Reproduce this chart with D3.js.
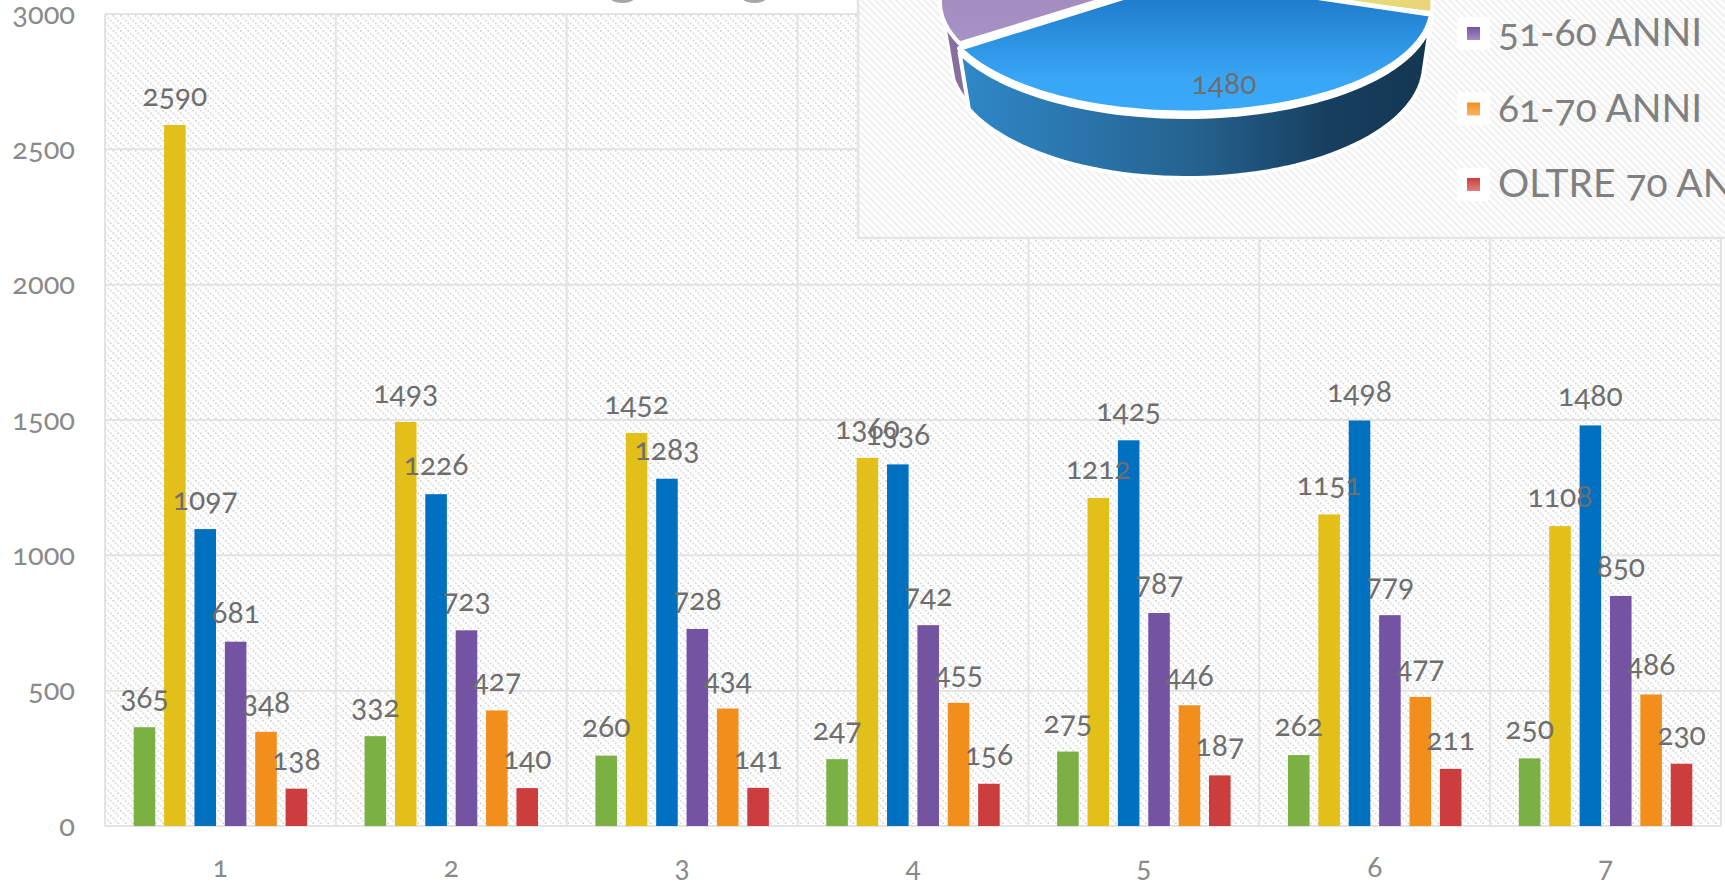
<!DOCTYPE html>
<html><head><meta charset="utf-8">
<script src="https://cdn.jsdelivr.net/npm/d3@7/dist/d3.min.js"></script>
<style>
html,body{margin:0;padding:0;background:#fff;overflow:hidden}
svg{display:block}
text{font-family:Lato,"Open Sans",sans-serif;font-variant-numeric:oldstyle-nums;font-feature-settings:"onum" 1}
</style></head><body>
<svg id="c" width="1725" height="883"></svg>
<script>
const categories=["1","2","3","4","5","6","7"];
const seriesKeys=["green","yellow","blue","purple","orange","red"];
const seriesColors=["#7ab142","#e3c019","#0070c0","#7453a2","#f28e1c","#cc3d3d"];
const greenValues=[365,332,260,247,275,262,250];
const yellowValues=[2590,1493,1452,1360,1212,1151,1108];
const blueValues=[1097,1226,1283,1336,1425,1498,1480];
const purpleValues=[681,723,728,742,787,779,850];
const orangeValues=[348,427,434,455,446,477,486];
const redValues=[138,140,141,156,187,211,230];
const yTicks=[0,500,1000,1500,2000,2500,3000];
const legendNames=["51-60 ANNI","61-70 ANNI","OLTRE 70 ANNI"];
const legendColors=[["#7453a2","#a48cc6"],["#f28e1c","#f9b566"],["#cc3d3d","#e08080"]];
const allValues=[greenValues,yellowValues,blueValues,purpleValues,orangeValues,redValues];

const svg=d3.select("#c");
const defs=svg.append("defs");
// dotted hatch for the main plot
const p1=defs.append("pattern").attr("id","h1").attr("patternUnits","userSpaceOnUse").attr("width",7.5).attr("height",7.5);
p1.append("rect").attr("width",7.5).attr("height",7.5).attr("fill","#fff");
p1.selectAll("rect.d").data([0,2.5,5]).join("rect").attr("class","d").attr("x",d=>d).attr("y",d=>d).attr("width",1.6).attr("height",1.6).attr("fill","#cdcdcd");
// banded hatch for the inset panel
const p2=defs.append("pattern").attr("id","h2").attr("patternUnits","userSpaceOnUse").attr("width",7).attr("height",7);
p2.append("rect").attr("width",7).attr("height",7).attr("fill","#fff");
p2.append("path").attr("d","M-1,-1L8,8M-1,6L1,8M6,-1L8,1").attr("stroke","#f1f1f1").attr("stroke-width",2.6);

const x0=d3.scaleBand().domain(categories).range([105,1721]);
const x1=d3.scaleBand().domain(seriesKeys).range([0,x0.bandwidth()]).paddingInner(.29).paddingOuter(.945);
const y=d3.scaleLinear().domain([0,3000]).range([826,14]);

svg.append("rect").attr("x",x0.range()[0]).attr("y",y(3000)).attr("width",x0.range()[1]-x0.range()[0]).attr("height",y(0)-y(3000)).attr("fill","url(#h1)");
const gridCol="#e3e3e3";
svg.append("g").selectAll("line").data(yTicks).join("line")
 .attr("x1",x0.range()[0]).attr("x2",x0.range()[1]).attr("y1",d=>y(d)).attr("y2",d=>y(d)).attr("stroke",gridCol).attr("stroke-width",2);
svg.append("g").selectAll("line").data(categories.concat("end")).join("line")
 .attr("x1",(d,i)=>x0.range()[0]+i*x0.step()).attr("x2",(d,i)=>x0.range()[0]+i*x0.step())
 .attr("y1",y(3000)).attr("y2",y(0)).attr("stroke",gridCol).attr("stroke-width",2);

// axes
const yAxis=d3.axisLeft(y).tickValues(yTicks).tickFormat(d3.format("d")).tickSize(0).tickPadding(0);
const gy=svg.append("g").attr("transform","translate(75,0)").call(yAxis);
gy.select(".domain").remove();
gy.selectAll("text").attr("fill","#8a8a8a").style("font-size","29px").attr("dy","0.32em");
const xAxis=d3.axisBottom(x0).tickSize(0).tickPadding(0);
const gx=svg.append("g").attr("transform","translate(0,877)").call(xAxis);
gx.select(".domain").remove();
gx.selectAll("text").attr("fill","#8a8a8a").style("font-size","28px").attr("dy",0);

// bars
const groups=svg.append("g").selectAll("g").data(categories).join("g").attr("transform",d=>`translate(${x0(d)},0)`);
const rows=(c,i)=>seriesKeys.map((k,s)=>({k,s,v:allValues[s][i]}));
groups.selectAll("rect").data(rows).join("rect")
 .attr("x",d=>x1(d.k)).attr("width",x1.bandwidth()).attr("y",d=>y(d.v)).attr("height",d=>y(0)-y(d.v)).attr("fill",d=>seriesColors[d.s]);
groups.selectAll("text").data(rows).join("text")
 .attr("x",d=>x1(d.k)+x1.bandwidth()/2).attr("y",d=>y(d.v)-19)
 .attr("text-anchor","middle").attr("fill","#6e6e6e").style("font-size","30px").text(d=>d.v);

// title descenders above the plot
svg.append("g").selectAll("text").data(["g","g"]).join("text")
 .attr("x",(d,i)=>x0.range()[0]+502+i*132).attr("y",-8).attr("fill","#a6a6a6").attr("font-weight",700).style("font-size","62px").text(d=>d);

// inset panel
const panel={x:858,y:-4,w:880,h:242};
svg.append("rect").attr("x",panel.x).attr("y",panel.y).attr("width",panel.w).attr("height",panel.h).attr("fill","url(#h2)").attr("stroke","#e4e4e4").attr("stroke-width",2.5);

// 3D pie from the last category's values
const lastIdx=categories.length-1;
const pieVals=allValues.map(a=>a[lastIdx]);
const pieArcs=d3.pie().sort(null)(pieVals);
const blueArc=pieArcs[2];
const tStart=94*Math.PI/180, tEnd=247*Math.PI/180;
const k=(tEnd-tStart)/(blueArc.endAngle-blueArc.startAngle);
const tOf=a=>tStart+(a-blueArc.startAngle)*k;
const topE={cx:1186,cy:7,rx:246,ry:106}, lowE={cx:1187,cy:65,rx:237,ry:113};
const pt=(e,t,dy=0)=>[e.cx+e.rx*Math.sin(t),e.cy+dy-e.ry*Math.cos(t)];
const samples=(a,b,n=60)=>d3.range(n+1).map(i=>a+(b-a)*i/n);
const pline=d3.line();

const gt=defs.append("linearGradient").attr("id","pTop").attr("x1",0).attr("x2",0).attr("y1",0).attr("y2",1);
gt.append("stop").attr("offset","0").attr("stop-color","#1a72c2");
gt.append("stop").attr("offset","0.75").attr("stop-color","#39a6f6");
gt.append("stop").attr("offset","1").attr("stop-color","#3aa9fa");
const gs=defs.append("linearGradient").attr("id","pSide").attr("x1",0).attr("x2",1).attr("y1",0).attr("y2",0);
gs.append("stop").attr("offset","0").attr("stop-color","#2f88c8");
gs.append("stop").attr("offset","0.5").attr("stop-color","#25628f");
gs.append("stop").attr("offset","0.78").attr("stop-color","#173f60");
gs.append("stop").attr("offset","1").attr("stop-color","#143650");
const gv=defs.append("linearGradient").attr("id","pPur").attr("x1",0).attr("x2",0).attr("y1",0).attr("y2",1);
gv.append("stop").attr("offset","0").attr("stop-color","#9a80b9");
gv.append("stop").attr("offset","1").attr("stop-color","#a892c4");

const pieG=svg.append("g");
const purpleArc=pieArcs[3], pE={...topE,cy:2};
const ps=samples(tOf(purpleArc.startAngle),tOf(purpleArc.endAngle));
const sliverT=samples(tOf(purpleArc.startAngle),tOf(purpleArc.startAngle)+.22,10);
pieG.append("path").attr("d",pline(sliverT.map(t=>pt(pE,t)).concat(sliverT.slice().reverse().map(t=>pt({...lowE,cy:lowE.cy-6},t)))))
 .attr("fill","#86709f").attr("stroke","#fff").attr("stroke-width",3);
pieG.append("path").attr("d",pline([[1186,-26]].concat(ps.map(t=>pt(pE,t)))) + "Z").attr("fill","url(#pPur)").attr("stroke","#fff").attr("stroke-width",4);
const yellowArc=pieArcs[1], yE={...topE,cy:5};
const ysamp=samples(tOf(yellowArc.startAngle),tOf(yellowArc.endAngle));
pieG.append("path").attr("d",pline([[1186,-17]].concat(ysamp.map(t=>pt(yE,t)))) + "Z").attr("fill","#e8d778").attr("stroke","#fff").attr("stroke-width",3);
const bs=samples(tStart,tEnd);
const wall=bs.map(t=>pt(topE,t,4)).concat(bs.slice().reverse().map(t=>pt(lowE,t)));
pieG.append("path").attr("d",pline(wall)+"Z").attr("fill","url(#pSide)").attr("stroke","#fff").attr("stroke-width",4).attr("stroke-linejoin","round");
const apex=[1186,-22];
pieG.append("path").attr("d",pline([apex].concat(bs.map(t=>pt(topE,t))))+"Z").attr("fill","url(#pTop)").attr("stroke","#fff").attr("stroke-width",5).attr("stroke-linejoin","round");
pieG.append("text").attr("x",1224).attr("y",94).attr("text-anchor","middle").attr("fill","#6e6e6e").style("font-size","30px").text(pieVals[2]);

// legend
const ly=d3.scalePoint().domain(legendNames).range([33,184]);
const lg=svg.append("g").selectAll("g").data(legendNames).join("g").attr("transform",d=>`translate(0,${ly(d)})`);
legendColors.forEach((c,i)=>{
  const g=defs.append("linearGradient").attr("id","lg"+i).attr("x1",0).attr("x2",0).attr("y1",0).attr("y2",1);
  g.append("stop").attr("offset","0").attr("stop-color",c[0]);
  g.append("stop").attr("offset","1").attr("stop-color",c[1]);
});
lg.append("rect").attr("x",1457).attr("y",-16).attr("width",33).attr("height",33).attr("rx",4).attr("fill","#fff");
lg.append("rect").attr("x",1467).attr("y",-6).attr("width",13).attr("height",13).attr("fill",(d,i)=>`url(#lg${i})`);
lg.append("text").attr("x",1498).attr("y",13).attr("fill","#808080").style("font-size","39px").text(d=>d);
</script></body></html>
